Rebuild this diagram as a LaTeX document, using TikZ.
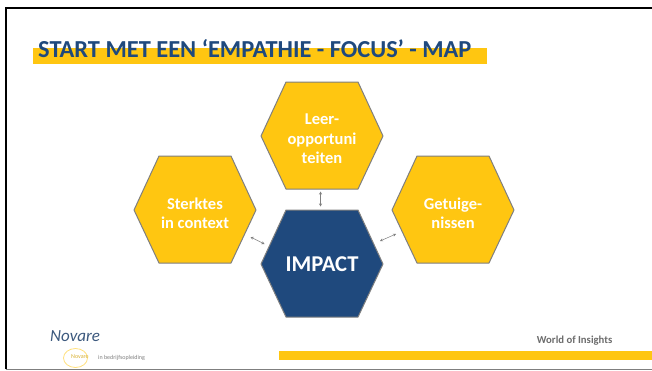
\documentclass[tikz,border=0pt]{standalone}
\usepackage{fontspec}
\setmainfont{Carlito}
\definecolor{gold}{HTML}{FFC611}
\definecolor{navy}{HTML}{1F497D}
\definecolor{edge}{HTML}{7F7F7F}
\usetikzlibrary{arrows.meta}
\tikzset{
  hexa/.style={draw=edge,line width=1pt,line join=round},
  hexlabel/.style={text=white,font=\bfseries\fontsize{16.5}{19.5}\selectfont,align=center},
  link/.style={draw=edge,line width=0.5pt,{Stealth[length=3pt,width=3pt]}-{Stealth[length=3pt,width=3pt]}}
}
\newcommand{\hexat}[3]{\fill[#3] (#1-61,#2) -- (#1-36,#2-54) -- (#1+36,#2-54) -- (#1+61,#2) -- (#1+36,#2+53) -- (#1-36,#2+53) -- cycle;
  \draw[hexa] (#1-61,#2) -- (#1-36,#2-54) -- (#1+36,#2-54) -- (#1+61,#2) -- (#1+36,#2+53) -- (#1-36,#2+53) -- cycle;}
\begin{document}
\begin{tikzpicture}[x=1pt,y=-1pt]
\useasboundingbox (0,0) rectangle (652,370);
\fill[white] (0,0) rectangle (652,370);
% slide frame
\draw[black,line width=2pt] (5.5,369) -- (5.5,7.5) -- (652,7.5);
\draw[edge,line width=1pt] (5.5,369.3) -- (652,369.3);
% title
\fill[gold] (33,48) rectangle (487,64);
\node[anchor=west,inner sep=0pt,text=navy,font=\bfseries\fontsize{24.4}{26}\selectfont] (title) at (38,49) {START MET EEN ‘EMPATHIE - FOCUS’ - MAP};
% hexagons
\hexat{322}{136}{gold}
\hexat{195}{210}{gold}
\hexat{453}{210}{gold}
\hexat{322}{264}{navy}
\coordinate (top) at (322,139);
\coordinate (left) at (195,213.5);
\coordinate (right) at (453,213.5);
\coordinate (mid) at (322,264);
\node[hexlabel] (leer) at (top) {Leer-\\opportuni\\teiten};
\node[hexlabel] (sterk) at (left) {Sterktes\\in context};
\node[hexlabel] (getuig) at (right) {Getuige-\\nissen};
\node[text=white,font=\bfseries\fontsize{22.6}{25}\selectfont] (impact) at (mid) {IMPACT};
% connectors
\coordinate (a1) at (320.5,191.5); \coordinate (a2) at (320.5,206.5);
\coordinate (b1) at (250.5,237); \coordinate (b2) at (264.5,244);
\coordinate (c1) at (380,241); \coordinate (c2) at (396,234);
\draw[link] (a1) -- (a2);
\draw[link] (b1) -- (b2);
\draw[link] (c1) -- (c2);
% footer
\fill[gold] (279,351) rectangle (652,360);
\node[anchor=east,inner sep=0pt,text=edge!85!black,font=\bfseries\fontsize{10.7}{12}\selectfont] (world) at (612.5,341) {World of Insights};
% logo
\draw[gold!55,line width=0.8pt] (75.5,358) ellipse (12 and 9.5);
\node[anchor=west,inner sep=0pt,text=navy!70!gray,font=\itshape\fontsize{17}{18}\selectfont] (novare) at (50,336) {Novare};
\node[anchor=west,inner sep=0pt,text=gray,font=\fontsize{6}{7}\selectfont] (sub) at (98,358) {in bedrijfsopleiding};
\node[anchor=west,inner sep=0pt,text=gold!70!gray,font=\fontsize{6}{7}\selectfont] (sub2) at (71,357) {Novare};
\end{tikzpicture}
\end{document}
